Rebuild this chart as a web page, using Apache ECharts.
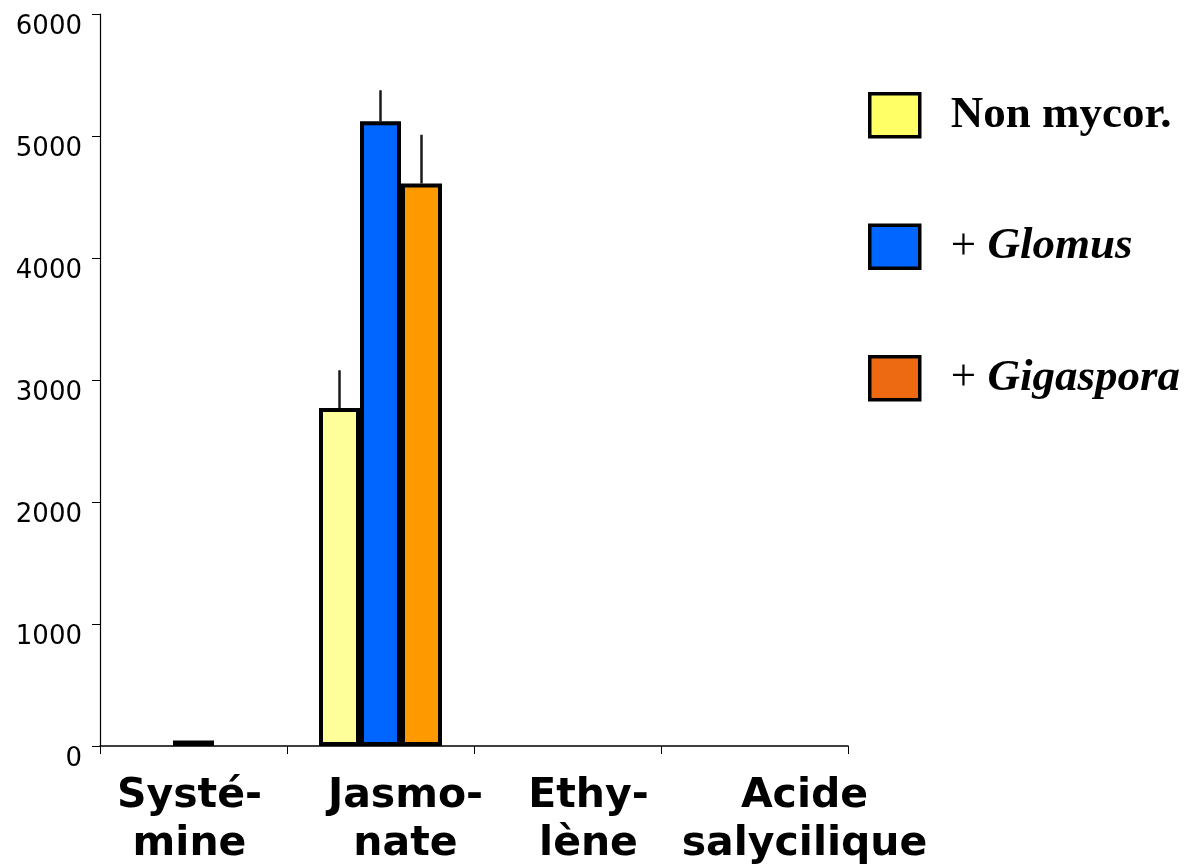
<!DOCTYPE html>
<html>
<head>
<meta charset="utf-8">
<script src="https://cdn.jsdelivr.net/npm/echarts@6/dist/echarts.min.js"></script>
<style>
  html, body { margin: 0; padding: 0; background: #fff; }
  #chart { width: 1197px; height: 867px; }
</style>
</head>
<body>
<div id="chart"></div>
<script>
// categories and values
const categories = ['Systé-\nmine', 'Jasmo-\nnate', 'Ethy-\nlène', 'Acide\nsalycilique'];
const seriesNames = ['Non mycor.', '+ Glomus', '+ Gigaspora'];
const nonMycor = [null, 2770, null, null];
const glomus = [45, 5120, null, null];
const gigaspora = [null, 4610, null, null];
const errNonMycor = [null, 310, null, null];
const errGlomus = [null, 255, null, null];
const errGigaspora = [null, 400, null, null];
const yTicks = [0, 1000, 2000, 3000, 4000, 5000, 6000];

// styles
const barColors = ['#FFFF99', '#0066FF', '#FF9900'];
const legendColors = ['#FFFF66', '#0066FF', '#EE6A12'];
const labelShift = [-8, 50, 42, 100];   // the category texts sit a little right of their bands
const BAR_W = 41;

let myChart = echarts.init(document.getElementById('chart'));

function errSeries(name, values, errs, offset) {
    let data = [];
    values.forEach((v, i) => {
        if (v != null && errs[i] != null) data.push([i, v, v + errs[i]]);
    });
    return {
        name: name + ' err',
        type: 'custom',
        z: 3,
        encode: { x: 0, y: [1, 2] },
        data: data,
        renderItem: function (params, api) {
            let x = api.coord([api.value(0), 0])[0] + offset;
            let y0 = api.coord([api.value(0), api.value(1)])[1];
            let y1 = api.coord([api.value(0), api.value(2)])[1];
            return {
                type: 'line',
                shape: { x1: x, y1: y0, x2: x, y2: y1 },
                style: { stroke: '#1a1a1a', lineWidth: 2.5 }
            };
        }
    };
}

let barBase = {
    type: 'bar',
    barWidth: BAR_W,
    barGap: '0%',
    z: 2
};

let option = {
    animation: false,
    grid: { left: 100, right: 349, top: 14, bottom: 121, containLabel: false, outerBoundsMode: 'none' },
    legend: {
        orient: 'vertical',
        left: 868,
        top: 92,
        padding: 0,
        itemWidth: 50,
        itemHeight: 43,
        itemGap: 85,
        icon: 'rect',
        selectedMode: false,
        data: seriesNames.map((n, i) => ({ name: n, itemStyle: { color: legendColors[i], borderColor: '#000', borderWidth: 3.5 } })),
        formatter: function (name) {
            if (name.indexOf('+ ') === 0) return '{n|+ }{bi|' + name.slice(2) + '}';
            return '{b|' + name + '}';
        },
        textStyle: {
            padding: [0, 0, 0, 26],
            rich: {
                n: { fontFamily: 'Liberation Serif', fontSize: 45, color: '#000', lineHeight: 43 },
                b: { fontFamily: 'Liberation Serif', fontSize: 45, fontWeight: 'bold', color: '#000', lineHeight: 43 },
                bi: { fontFamily: 'Liberation Serif', fontSize: 45, fontWeight: 'bold', fontStyle: 'italic', color: '#000', lineHeight: 43 }
            }
        }
    },
    xAxis: {
        type: 'category',
        data: categories.map((c, i) => ({
            value: c,
            textStyle: { padding: labelShift[i] >= 0 ? [0, 0, 0, labelShift[i]] : [0, -labelShift[i], 0, 0] }
        })),
        axisLine: { lineStyle: { color: '#000', width: 1.5 } },
        axisTick: { show: true, length: 8, lineStyle: { color: '#000', width: 1 } },
        axisLabel: {
            interval: 0,
            margin: 26,
            fontFamily: 'DejaVu Sans',
            fontWeight: 'bold',
            fontSize: 41,
            lineHeight: 48,
            color: '#000'
        }
    },
    yAxis: {
        type: 'value',
        min: yTicks[0],
        max: yTicks[yTicks.length - 1],
        interval: 1000,
        splitLine: { show: false },
        axisLine: { show: true, lineStyle: { color: '#000', width: 1.2 } },
        axisTick: { show: true, length: 8, lineStyle: { color: '#000' } },
        axisLabel: {
            margin: 18,
            fontFamily: 'DejaVu Sans',
            fontSize: 26,
            color: '#000',
            verticalAlign: 'top',
            formatter: v => String(v)
        }
    },
    series: [
        Object.assign({}, barBase, {
            name: seriesNames[0],
            data: nonMycor,
            itemStyle: { color: barColors[0], borderColor: '#000', borderWidth: 4 }
        }),
        Object.assign({}, barBase, {
            name: seriesNames[1],
            data: glomus.map((v, i) => i === 0 ? { value: v, itemStyle: { color: '#000' } } : v),
            itemStyle: { color: barColors[1], borderColor: '#000', borderWidth: 4 }
        }),
        Object.assign({}, barBase, {
            name: seriesNames[2],
            data: gigaspora,
            itemStyle: { color: barColors[2], borderColor: '#000', borderWidth: 4 }
        }),
        errSeries(seriesNames[0], nonMycor, errNonMycor, -BAR_W),
        errSeries(seriesNames[1], glomus, errGlomus, 0),
        errSeries(seriesNames[2], gigaspora, errGigaspora, BAR_W)
    ]
};

myChart.setOption(option);
</script>
</body>
</html>
